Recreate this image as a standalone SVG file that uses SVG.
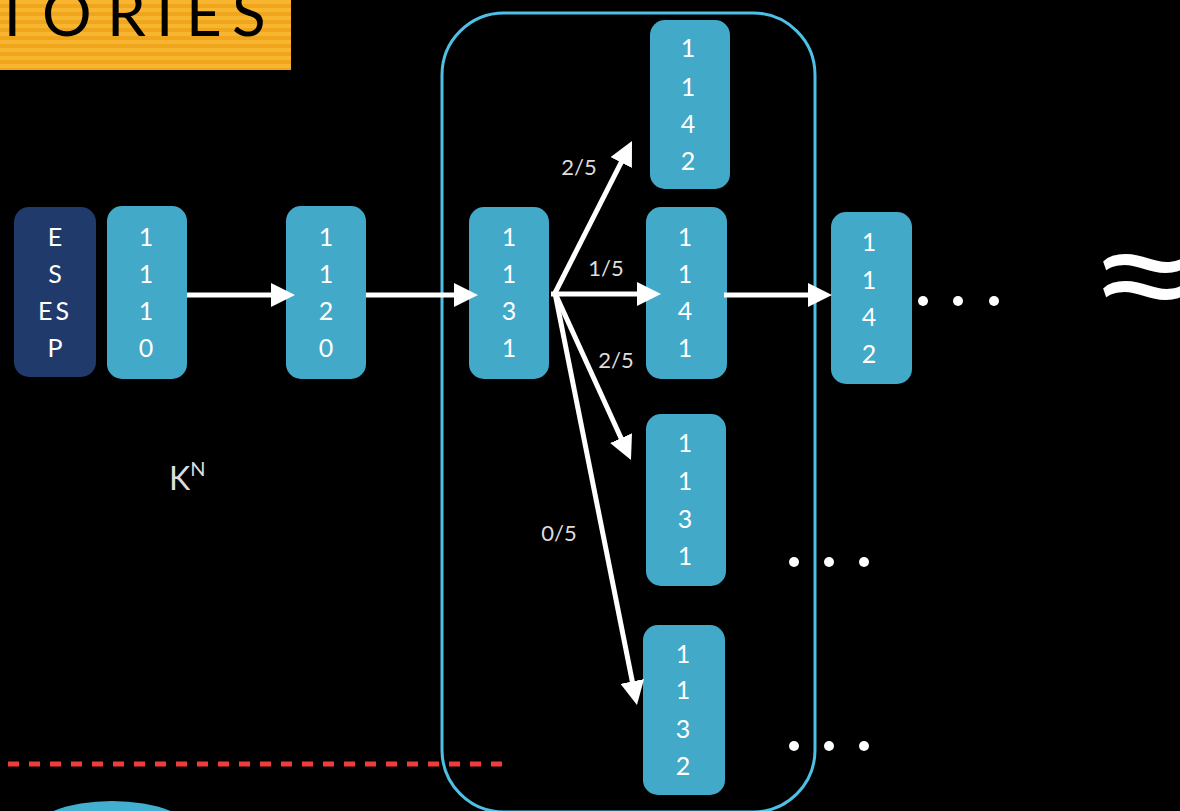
<svg xmlns="http://www.w3.org/2000/svg" width="1180" height="811" viewBox="0 0 1180 811">
<defs>
<pattern id="stripes" patternUnits="userSpaceOnUse" width="8" height="8">
<rect width="8" height="8" fill="#EFA51C"/>
<rect y="0" width="8" height="4" fill="#F8B630"/>
</pattern>
<marker id="ah" markerUnits="userSpaceOnUse" markerWidth="26" markerHeight="24" refX="18" refY="12" orient="auto">
<path d="M0,0 L24,12 L0,24 z" fill="#fff"/>
</marker>
<style>
.node rect{fill:#42A9C9}
.dark rect{fill:#1F3A6B}
.nt{font-family:"Lato","Noto Sans",sans-serif;font-size:25px;fill:#fff;text-anchor:middle}
.lbl{font-family:"Lato","Noto Sans",sans-serif;font-size:22px;fill:#ddd;text-anchor:middle}
.arr{stroke:#fff;stroke-width:5;fill:none;marker-end:url(#ah)}
.dot{fill:#fff}
</style>
</defs>
<rect width="1180" height="811" fill="#000"/>
<g id="banner">
<rect x="0" y="0" width="291" height="70" fill="url(#stripes)"/>
<text font-family="Lato,'Noto Sans',sans-serif" font-weight="400" font-size="62" fill="#000" y="36" x="-6 42 107 156 186 232">TORIES</text>
</g>
<g id="frame"><rect x="442" y="13" width="373" height="799" rx="62" fill="none" stroke="#4EC0E6" stroke-width="3"/></g>
<g id="divider"><line x1="8" y1="764" x2="512" y2="764" stroke="#F23B3B" stroke-width="5" stroke-dasharray="11 10"/></g>
<g id="blob"><ellipse cx="112" cy="834" rx="82" ry="33" fill="#42AFCF"/></g>

<g id="n-esesp" class="dark"><rect x="14" y="207" width="82" height="170" rx="15"/>
<text class="nt" x="55" y="246">E</text><text class="nt" x="55" y="283">S</text><text class="nt" x="55" y="320" letter-spacing="3">ES</text><text class="nt" x="55" y="357">P</text></g>
<g id="n1110" class="node"><rect x="107" y="206" width="80" height="173" rx="15"/>
<text class="nt" x="146" y="246">1</text><text class="nt" x="146" y="283">1</text><text class="nt" x="146" y="320">1</text><text class="nt" x="146" y="357">0</text></g>
<g id="n1120" class="node"><rect x="286" y="206" width="80" height="173" rx="15"/>
<text class="nt" x="326" y="246">1</text><text class="nt" x="326" y="283">1</text><text class="nt" x="326" y="320">2</text><text class="nt" x="326" y="357">0</text></g>
<g id="n1131" class="node"><rect x="469" y="207" width="80" height="172" rx="15"/>
<text class="nt" x="509" y="246">1</text><text class="nt" x="509" y="283">1</text><text class="nt" x="509" y="320">3</text><text class="nt" x="509" y="357">1</text></g>
<g id="n1142top" class="node"><rect x="650" y="20" width="80" height="169" rx="15"/>
<text class="nt" x="688" y="57">1</text><text class="nt" x="688" y="96">1</text><text class="nt" x="688" y="133">4</text><text class="nt" x="688" y="170">2</text></g>
<g id="n1141" class="node"><rect x="646" y="207" width="81" height="172" rx="15"/>
<text class="nt" x="685" y="246">1</text><text class="nt" x="685" y="283">1</text><text class="nt" x="685" y="320">4</text><text class="nt" x="685" y="357">1</text></g>
<g id="n1131b" class="node"><rect x="646" y="414" width="80" height="172" rx="15"/>
<text class="nt" x="685" y="452">1</text><text class="nt" x="685" y="490">1</text><text class="nt" x="685" y="528">3</text><text class="nt" x="685" y="565">1</text></g>
<g id="n1132" class="node"><rect x="643" y="625" width="82" height="170" rx="15"/>
<text class="nt" x="683" y="663">1</text><text class="nt" x="683" y="699">1</text><text class="nt" x="683" y="738">3</text><text class="nt" x="683" y="775">2</text></g>
<g id="n1142" class="node"><rect x="831" y="212" width="81" height="172" rx="15"/>
<text class="nt" x="869" y="251">1</text><text class="nt" x="869" y="289">1</text><text class="nt" x="869" y="326">4</text><text class="nt" x="869" y="363">2</text></g>

<g id="connectors">
<line class="arr" x1="187" y1="295" x2="289" y2="295"/>
<line class="arr" x1="366" y1="295" x2="472" y2="295"/>
<line class="arr" x1="551" y1="294" x2="655" y2="294"/>
<line class="arr" x1="724" y1="295" x2="826" y2="295"/>
<line class="arr" x1="555" y1="293" x2="629.3" y2="146.4"/>
<line class="arr" x1="555" y1="293" x2="628.5" y2="454.5"/>
<line class="arr" x1="555" y1="293" x2="635.8" y2="699.1"/>
<text class="lbl" x="579" y="175">2/5</text>
<text class="lbl" x="606" y="276">1/5</text>
<text class="lbl" x="616" y="368">2/5</text>
<text class="lbl" x="559" y="541">0/5</text>
</g>

<g id="kn"><text font-family="Lato,'Noto Sans',sans-serif" fill="#ddd" x="169" y="490" font-size="32">K<tspan font-size="20" dy="-14">N</tspan></text></g>

<g id="ellipses">
<circle class="dot" cx="923" cy="301" r="5"/><circle class="dot" cx="958" cy="301" r="5"/><circle class="dot" cx="994" cy="301" r="5"/>
<circle class="dot" cx="794" cy="562" r="5"/><circle class="dot" cx="829" cy="562" r="5"/><circle class="dot" cx="864" cy="562" r="5"/>
<circle class="dot" cx="794" cy="746" r="5"/><circle class="dot" cx="829" cy="746" r="5"/><circle class="dot" cx="864" cy="746" r="5"/>
</g>
<g id="approx"><text font-family="Lato,'Noto Sans',sans-serif" font-size="160" fill="#fff" transform="translate(1085,0) scale(1.3,1)" x="0" y="330">≈</text></g>
</svg>
